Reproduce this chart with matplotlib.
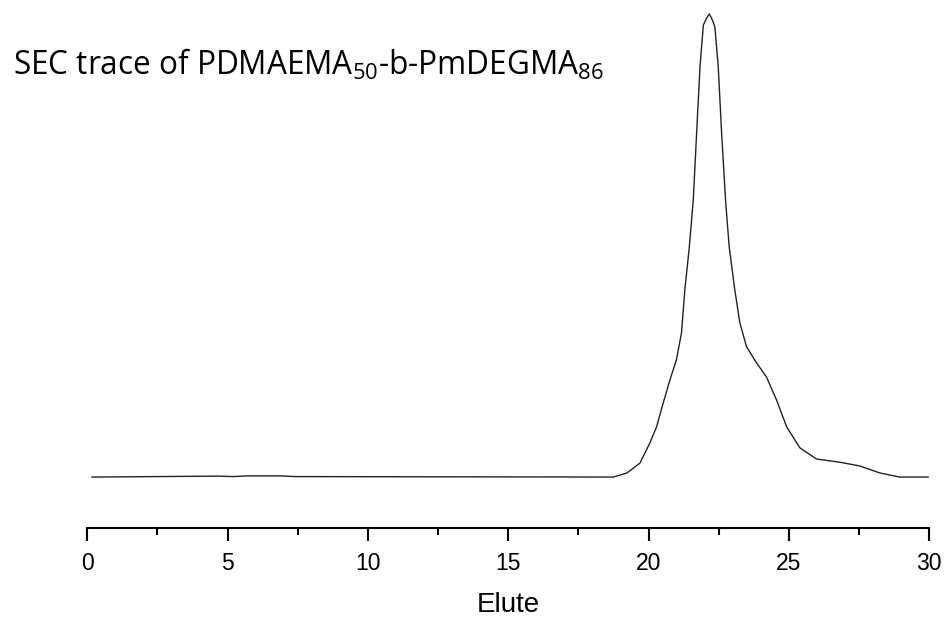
import matplotlib
matplotlib.use("Agg")
import matplotlib.pyplot as plt

# Elution volume (x) and normalised detector signal (y)
elute = [0.17, 4.7, 5.2, 5.7, 6.9, 7.4, 18.74, 19.22, 19.69, 20.04, 20.28, 20.52,
         20.76, 20.99, 21.17, 21.29, 21.45, 21.59, 21.71, 21.83, 21.95, 22.05,
         22.16, 22.27, 22.36, 22.48, 22.60, 22.74, 22.87, 23.07, 23.25, 23.49,
         23.85, 24.20, 24.56, 24.92, 25.39, 25.98, 26.81, 27.52, 28.23, 28.94, 29.96]
signal = [0.0, 0.2, 0.1, 0.25, 0.25, 0.1, 0.0, 0.86, 3.0, 7.3, 10.8, 16.0,
          21.0, 25.3, 31.1, 40.4, 49.7, 59.8, 74.3, 88.6, 97.6, 98.9,
          100.0, 98.7, 97.2, 88.6, 74.3, 59.8, 49.7, 40.4, 33.3, 28.1,
          24.6, 21.6, 16.6, 10.8, 6.3, 3.9, 3.2, 2.4, 0.9, 0.0, 0.0]

major_ticks = [0, 5, 10, 15, 20, 25, 30]
minor_ticks = [2.5, 7.5, 12.5, 17.5, 22.5, 27.5]
x_label = "Elute"
title = r"SEC trace of PDMAEMA$_{\mathrm{50}}$-b-PmDEGMA$_{\mathrm{86}}$"

plt.rcParams['mathtext.fontset'] = 'custom'
plt.rcParams['mathtext.rm'] = 'Open Sans'
plt.rcParams['mathtext.it'] = 'Open Sans'

W, H = 946, 622
fig = plt.figure(figsize=(W / 100, H / 100), dpi=100)
ax = fig.add_axes([87.3 / W, (H - 528) / H, (929.3 - 87.3) / W, 528 / H])
ax.plot(elute, signal, color='#222222', lw=1.0)
ax.set_xlim(0, 30)
ax.set_ylim(-11.0, 103.0)

for s in ['top', 'right', 'left']:
    ax.spines[s].set_visible(False)
ax.spines['bottom'].set_linewidth(1.5)
ax.set_yticks([])
ax.set_xticks(major_ticks)
ax.set_xticks(minor_ticks, minor=True)
ax.tick_params(axis='x', which='major', length=9.5, width=1.5, pad=8,
               labelsize=16.5, labelfontfamily='Liberation Sans')
ax.tick_params(axis='x', which='minor', length=5, width=1.5)
ax.set_xlabel(x_label, fontsize=20, fontfamily='Liberation Sans', labelpad=12)

fig.text(12.7 / W, 1 - 75 / H, title, fontsize=22.7, fontfamily='Open Sans',
         ha='left', va='baseline')

fig.savefig('out.png', dpi=100)
